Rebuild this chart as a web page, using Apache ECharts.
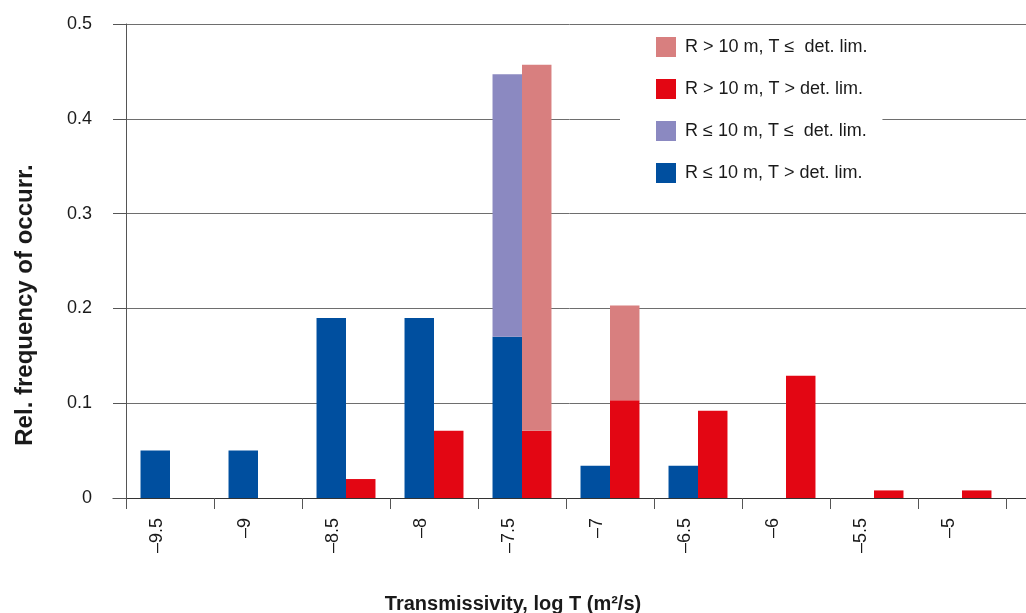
<!DOCTYPE html>
<html>
<head>
<meta charset="utf-8">
<script src="https://cdn.jsdelivr.net/npm/echarts@6/dist/echarts.min.js"></script>
<style>
html,body{margin:0;padding:0;background:#fff;}
#chart{width:1026px;height:613px;}
</style>
</head>
<body>
<div id="chart"></div>
<script>
// Category (tick) labels: log T bins
const categories = ['–9.5', '–9', '–8.5', '–8', '–7.5', '–7', '–6.5', '–6', '–5.5', '–5'];
// R ≤ 10 m, T > det. lim.
const smallRAbove = [0.05, 0.05, 0.19, 0.19, 0.17, 0.034, 0.034, 0, 0, 0];
// R ≤ 10 m, T ≤ det. lim.
const smallRBelow = [0, 0, 0, 0, 0.277, 0, 0, 0, 0, 0];
// R > 10 m, T > det. lim.
const largeRAbove = [0, 0, 0.02, 0.071, 0.071, 0.103, 0.092, 0.129, 0.008, 0.008];
// R > 10 m, T ≤ det. lim.
const largeRBelow = [0, 0, 0, 0, 0.386, 0.1, 0, 0, 0, 0];
// Y tick values
const yTicks = [0, 0.1, 0.2, 0.3, 0.4, 0.5];

const names = {
  lb: 'R > 10 m, T ≤  det. lim.',
  la: 'R > 10 m, T > det. lim.',
  sb: 'R ≤ 10 m, T ≤  det. lim.',
  sa: 'R ≤ 10 m, T > det. lim.'
};
const FONT = "'Liberation Sans', Arial, Helvetica, sans-serif";

const chart = echarts.init(document.getElementById('chart'), null, {renderer: 'canvas'});
const yMin = yTicks[0], yMax = yTicks[yTicks.length - 1], yStep = yTicks[1] - yTicks[0];

const barCommon = {
  type: 'bar', xAxisIndex: 0, yAxisIndex: 0,
  barCategoryGap: '33%', barGap: '0%'
};

chart.setOption({
  animation: false,
  backgroundColor: '#ffffff',
  textStyle: {fontFamily: FONT},
  title: {
    text: 'Transmissivity, log T (m²/s)',
    left: 'center', top: 589,
    textStyle: {fontFamily: FONT, fontSize: 20, fontWeight: 'bold', color: '#1a1a1a'}
  },
  graphic: [{
    type: 'text', x: 25, y: 305, rotation: Math.PI / 2,
    style: {
      text: 'Rel. frequency of occurr.',
      font: 'bold 24px ' + FONT, fill: '#1a1a1a',
      align: 'center', verticalAlign: 'middle'
    }
  }],
  legend: {
    orient: 'vertical', left: 620, top: 27,
    itemWidth: 20, itemHeight: 20, itemGap: 22,
    padding: [10, 15, 18, 36],
    backgroundColor: '#ffffff',
    icon: 'rect',
    data: [names.lb, names.la, names.sb, names.sa],
    textStyle: {fontFamily: FONT, fontSize: 18, color: '#1a1a1a', padding: [0, 0, 0, 4]}
  },
  grid: [
    {left: 126, right: 20, top: 24, bottom: 115},
    {left: 113, right: 0, top: 24, bottom: 115}
  ],
  xAxis: [{
    type: 'category', gridIndex: 0, data: categories,
    axisLine: {show: true, lineStyle: {color: '#333', width: 1}},
    axisTick: {show: true, length: 11, lineStyle: {color: '#555'}},
    axisLabel: {
      rotate: 90, fontSize: 18, color: '#1a1a1a', margin: 20,
      fontFamily: FONT, verticalAlign: 'bottom', lineHeight: 26
    },
    splitLine: {show: false}
  }, {
    type: 'value', gridIndex: 1, min: 0, max: 1,
    axisLine: {show: true, onZero: false, lineStyle: {color: '#333', width: 1}},
    axisTick: {show: false}, axisLabel: {show: false}, splitLine: {show: false}
  }],
  yAxis: [{
    type: 'value', gridIndex: 0, min: yMin, max: yMax, interval: yStep,
    axisLine: {show: true, lineStyle: {color: '#555', width: 1}},
    axisTick: {show: true, length: 13, lineStyle: {color: '#555'}},
    axisLabel: {fontSize: 18, color: '#1a1a1a', margin: 34, fontFamily: FONT},
    splitLine: {show: false}
  }, {
    type: 'value', gridIndex: 1, min: yMin, max: yMax, interval: yStep,
    axisLine: {show: false}, axisTick: {show: false}, axisLabel: {show: false},
    splitLine: {show: true, lineStyle: {color: '#6e6e6e', width: 1}}
  }],
  series: [
    Object.assign({}, barCommon, {name: names.sa, stack: 'small', data: smallRAbove, itemStyle: {color: '#004f9f'}}),
    Object.assign({}, barCommon, {name: names.sb, stack: 'small', data: smallRBelow, itemStyle: {color: '#8b89c1'}}),
    Object.assign({}, barCommon, {name: names.la, stack: 'large', data: largeRAbove, itemStyle: {color: '#e30613'}}),
    Object.assign({}, barCommon, {name: names.lb, stack: 'large', data: largeRBelow, itemStyle: {color: '#d87f7f'}})
  ]
});
</script>
</body>
</html>
